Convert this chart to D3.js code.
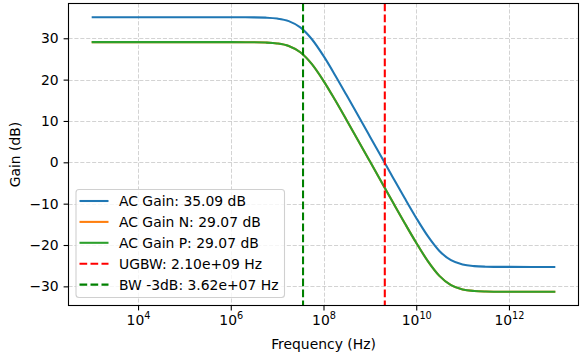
<!DOCTYPE html>
<html>
<head>
<meta charset="utf-8">
<script src="https://cdn.jsdelivr.net/npm/d3@7/dist/d3.min.js"></script>
<style>
  body { margin: 0; background: #fff; }
  svg { display: block; font-family: "DejaVu Sans", sans-serif; }
</style>
</head>
<body>
<svg id="chart" width="584" height="358"></svg>
<script>
// frequencies (Hz) the gain curves were read at
const freqs = [1e3, 1e4, 1e5, 1e6, 3.16e6, 5.62e6, 1e7, 1.78e7, 3.16e7, 5.62e7,
  1e8, 1.78e8, 3.16e8, 5.62e8, 1e9, 1.78e9, 3.16e9, 5.62e9, 1e10, 1.78e10,
  3.16e10, 5.62e10, 1e11, 1.78e11, 3.16e11, 5.62e11, 1e12, 3.16e12, 1e13];

const gainMain = [35.09, 35.09, 35.09, 35.09, 35.06, 34.99, 34.77, 34.15, 32.63, 29.76,
  25.73, 21.08, 16.20, 11.24, 6.26, 1.27, -3.71, -8.65, -13.45, -17.87,
  -21.44, -23.68, -24.72, -25.11, -25.24, -25.28, -25.29, -25.30, -25.30];

const gainN = [29.07, 29.07, 29.07, 29.07, 29.04, 28.97, 28.75, 28.13, 26.61, 23.74,
  19.71, 15.06, 10.18, 5.22, 0.24, -4.75, -9.73, -14.67, -19.47, -23.89,
  -27.46, -29.70, -30.74, -31.13, -31.26, -31.30, -31.31, -31.32, -31.32];

const gainP = [29.07, 29.07, 29.07, 29.07, 29.04, 28.97, 28.75, 28.13, 26.61, 23.74,
  19.71, 15.06, 10.18, 5.22, 0.24, -4.75, -9.73, -14.67, -19.47, -23.89,
  -27.46, -29.70, -30.74, -31.13, -31.26, -31.30, -31.31, -31.32, -31.32];

const ugbw = 2.10e9;
const bw3db = 3.62e7;

const xTicks = [1e4, 1e6, 1e8, 1e10, 1e12];
const yTicks = [-30, -20, -10, 0, 10, 20, 30];

const seriesNames = ["AC Gain: 35.09 dB", "AC Gain N: 29.07 dB", "AC Gain P: 29.07 dB"];
const vlineNames = ["UGBW: 2.10e+09 Hz", "BW -3dB: 3.62e+07 Hz"];

const fs = 13.9;
const plotL = 68.5, plotR = 578.5, plotT = 3.5, plotB = 305.5;

const svg = d3.select("#chart");

const x = d3.scaleLog().domain([10 ** 2.5, 10 ** 13.5]).range([plotL, plotR]);
const y = d3.scaleLinear().domain([-34.63, 38.41]).range([plotB, plotT]);

// grid
const grid = svg.append("g")
    .attr("stroke", "#b0b0b0")
    .attr("stroke-opacity", 0.7)
    .attr("stroke-width", 0.8)
    .attr("stroke-dasharray", "4.1,1.8");
grid.selectAll(".gx").data(xTicks).join("line")
    .attr("x1", d => Math.round(x(d)) + 0.5).attr("x2", d => Math.round(x(d)) + 0.5)
    .attr("y1", plotT).attr("y2", plotB);
grid.selectAll(".gy").data(yTicks).join("line")
    .attr("y1", d => Math.round(y(d)) + 0.5).attr("y2", d => Math.round(y(d)) + 0.5)
    .attr("x1", plotL).attr("x2", plotR);

// curves
const line = d3.line()
    .x((d, i) => x(freqs[i]))
    .y(d => y(d))
    .curve(d3.curveMonotoneX);

const colors = ["#1f77b4", "#ff7f0e", "#2ca02c"];
[gainMain, gainN, gainP].forEach((g, i) => {
    svg.append("path")
        .attr("d", line(g))
        .attr("fill", "none")
        .attr("stroke", colors[i])
        .attr("stroke-width", 2.08)
        .attr("stroke-linejoin", "round");
});

const vColors = ["red", "green"];
[ugbw, bw3db].forEach((f, i) => {
    svg.append("line")
        .attr("x1", x(f)).attr("x2", x(f))
        .attr("y1", plotT).attr("y2", plotB)
        .attr("stroke", vColors[i])
        .attr("stroke-width", 2.08)
        .attr("stroke-dasharray", "7.7,3.3");
});

// axes
const xAxis = svg.append("g")
    .attr("transform", `translate(0,${plotB})`)
    .call(d3.axisBottom(x).tickValues(xTicks).tickSize(4.9).tickPadding(4.9).tickSizeOuter(0));
xAxis.select(".domain").remove();
xAxis.selectAll("text").each(function(d) {
    const t = d3.select(this).text(null)
        .attr("font-size", fs).attr("fill", "#000").attr("font-family", "DejaVu Sans");
    t.append("tspan").text("10");
    t.append("tspan").text(Math.round(Math.log10(d)))
        .attr("font-size", fs * 0.7).attr("dy", -6.2);
});
xAxis.selectAll("line").attr("stroke", "#000").attr("stroke-width", 1.1);

const yAxis = svg.append("g")
    .attr("transform", `translate(${plotL},0)`)
    .call(d3.axisLeft(y).tickValues(yTicks).tickSize(4.9).tickPadding(4.9)
        .tickFormat(d => d < 0 ? "\u2212" + Math.abs(d) : d));
yAxis.select(".domain").remove();
yAxis.selectAll("text").attr("font-size", fs).attr("fill", "#000").attr("font-family", "DejaVu Sans");
yAxis.selectAll("line").attr("stroke", "#000").attr("stroke-width", 1.1);

// spines
svg.append("rect")
    .attr("x", plotL).attr("y", plotT)
    .attr("width", plotR - plotL).attr("height", plotB - plotT)
    .attr("fill", "none").attr("stroke", "#000").attr("stroke-width", 1.1);

// axis labels
svg.append("text")
    .attr("x", (plotL + plotR) / 2).attr("y", 349)
    .attr("text-anchor", "middle").attr("font-size", fs)
    .text("Frequency (Hz)");
svg.append("text")
    .attr("transform", `translate(20,${(plotT + plotB) / 2}) rotate(-90)`)
    .attr("text-anchor", "middle").attr("font-size", fs)
    .text("Gain (dB)");

// legend
const legendItems = [
    { label: seriesNames[0], color: colors[0], dash: null },
    { label: seriesNames[1], color: colors[1], dash: null },
    { label: seriesNames[2], color: colors[2], dash: null },
    { label: vlineNames[0], color: vColors[0], dash: "7.7,3.3" },
    { label: vlineNames[1], color: vColors[1], dash: "7.7,3.3" }
];
const lg = svg.append("g");
lg.append("rect")
    .attr("x", 76).attr("y", 189.5)
    .attr("width", 208.5).attr("height", 108)
    .attr("rx", 3)
    .attr("fill", "#fff").attr("fill-opacity", 0.8)
    .attr("stroke", "#d0d0d0").attr("stroke-width", 1.1);
const rows = lg.selectAll("g.row").data(legendItems).join("g")
    .attr("transform", (d, i) => `translate(0,${201 + i * 20.9})`);
rows.append("line")
    .attr("x1", 79.5).attr("x2", 108.5)
    .attr("stroke", d => d.color)
    .attr("stroke-width", 2.08)
    .attr("stroke-dasharray", d => d.dash);
rows.append("text")
    .attr("x", 119).attr("y", 0).attr("dy", "0.36em")
    .attr("font-size", fs)
    .text(d => d.label);
</script>
</body>
</html>
